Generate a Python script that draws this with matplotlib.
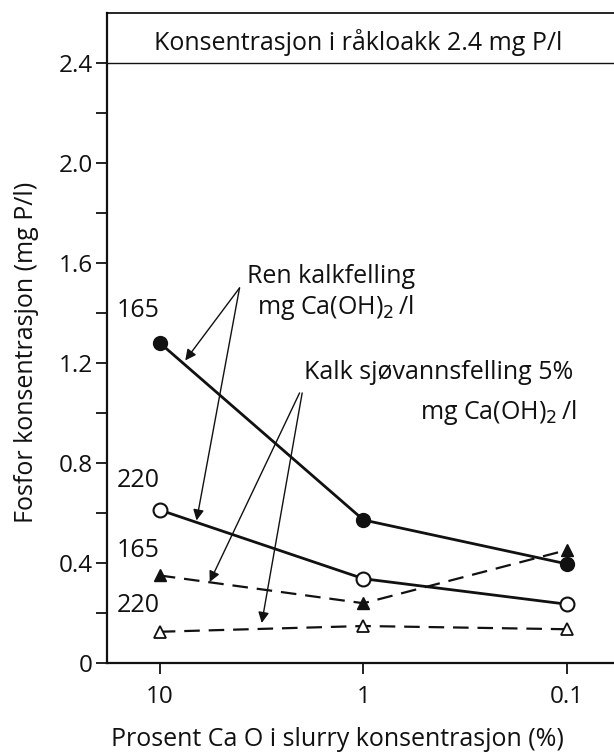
import matplotlib.pyplot as plt

plt.rcParams['font.family'] = ['Open Sans', 'DejaVu Sans']

# ── Data ──
pct_cao = [10, 1, 0.1]
ren_165 = [1.28, 0.572, 0.396]
ren_220 = [0.612, 0.337, 0.235]
sjo_165 = [0.35, 0.239, 0.452]
sjo_220 = [0.125, 0.148, 0.135]
raw_conc = 2.4
yticks = [0, 0.4, 0.8, 1.2, 1.6, 2.0, 2.4]
yticklabels = ["0", "0.4", "0.8", "1.2", "1.6", "2.0", "2.4"]
yminor = [0.2, 0.6, 1.0, 1.4, 1.8, 2.2]
xticks = [10, 1, 0.1]
xticklabels = ["10", "1", "0.1"]

fig = plt.figure(figsize=(6.14, 7.56), dpi=100)
ax = fig.add_axes([0.174, 0.123, 0.826, 0.860])
ax.set_xscale("log")
ax.set_xlim(18.2, 0.0589)
ax.set_ylim(0, 2.6)

ink = "#111111"
fs = 18

# ── Series ──
ax.plot(pct_cao, ren_165, "-", color=ink, lw=2.0, marker="o", ms=10,
        mfc=ink, mec=ink, zorder=3)
ax.plot(pct_cao, ren_220, "-", color=ink, lw=2.0, marker="o", ms=10,
        mfc="white", mec=ink, mew=1.5, zorder=3)
ax.plot(pct_cao, sjo_165, color=ink, lw=1.6, ls=(0, (7, 4)), marker="^",
        ms=9, mfc=ink, mec=ink, zorder=3)
ax.plot(pct_cao, sjo_220, color=ink, lw=1.6, ls=(0, (7, 4)), marker="^",
        ms=9, mfc="white", mec=ink, mew=1.3, zorder=3)

# ── Raw sewage line ──
ax.axhline(raw_conc, color=ink, lw=1.0)
ax.text(1.06, 2.48, "Konsentrasjon i råkloakk 2.4 mg P/l",
        fontsize=fs, ha="center", va="center", color=ink)

# ── Dose labels ──
for yv, lab in [(1.41, "165"), (0.73, "220"), (0.45, "165"), (0.23, "220")]:
    ax.text(16.2, yv, lab, fontsize=fs, ha="left", va="center", color=ink)

# ── Annotations ──
arr = dict(arrowstyle="-|>", color=ink, lw=1.0, mutation_scale=16,
           shrinkA=0, shrinkB=0)
ax.text(3.75, 1.545, "Ren kalkfelling", fontsize=fs, ha="left", va="center", color=ink)
ax.text(3.35, 1.42, r"mg Ca(OH)$_2\,$/l", fontsize=fs, ha="left", va="center", color=ink)
ax.annotate("", xy=(7.5, 1.21), xytext=(4.06, 1.50), arrowprops=arr)
ax.annotate("", xy=(6.6, 0.57), xytext=(4.06, 1.50), arrowprops=arr)

ax.text(1.95, 1.16, "Kalk sjøvannsfelling 5%", fontsize=fs, ha="left", va="center", color=ink)
ax.text(0.0893, 1.00, r"mg Ca(OH)$_2\,$/l", fontsize=fs, ha="right", va="center", color=ink)
ax.annotate("", xy=(5.69, 0.324), xytext=(2.06, 1.08), arrowprops=arr)
ax.annotate("", xy=(3.16, 0.16), xytext=(2.0, 1.08), arrowprops=arr)

# ── Axes styling ──
ax.spines["right"].set_visible(False)
for s in ["left", "bottom"]:
    ax.spines[s].set_linewidth(1.6)
    ax.spines[s].set_color(ink)
ax.spines["top"].set_linewidth(1.2)
ax.set_yticks(yticks)
ax.set_yticklabels(yticklabels)
ax.set_yticks(yminor, minor=True)
ax.set_xticks(xticks)
ax.set_xticklabels(xticklabels)
ax.xaxis.set_minor_locator(plt.NullLocator())
ax.tick_params(axis="both", which="both", direction="out", length=8, width=1.3,
               labelsize=17.5, colors=ink)
ax.tick_params(axis="x", pad=8)
ax.tick_params(axis="y", pad=2)

ax.set_ylabel("Fosfor konsentrasjon (mg P/l)", fontsize=fs, color=ink, va="center")
ax.yaxis.set_label_coords(-0.158, 0.478)
ax.set_xlabel("Prosent Ca O i slurry konsentrasjon (%)", fontsize=fs,
              color=ink, va="center")
ax.xaxis.set_label_coords(0.454, -0.117)

fig.savefig("out.png", dpi=100, facecolor="white")
